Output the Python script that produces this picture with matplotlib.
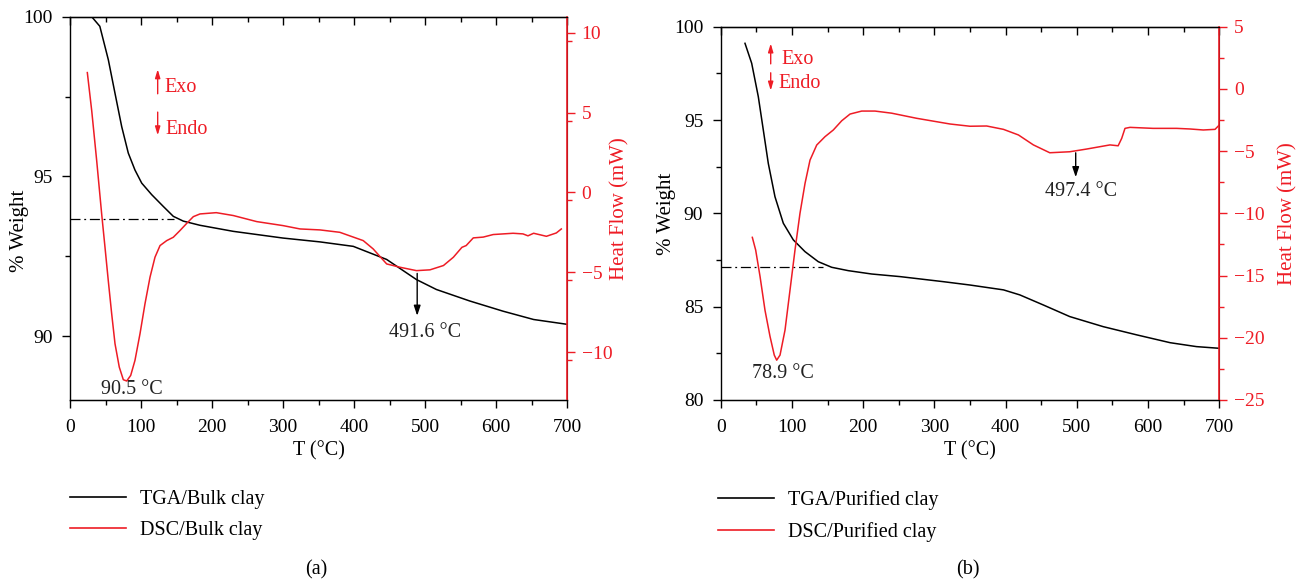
import matplotlib
matplotlib.use("Agg")
import matplotlib.pyplot as plt
from matplotlib.lines import Line2D

plt.rcParams['font.family'] = ['Liberation Serif', 'DejaVu Serif']

RED = '#ee1c25'
FS = 14
LFS = 14.5

# ---------------- Panel (a): bulk clay ----------------
tga_a_T = [30.5, 42, 54, 63.4, 72.8, 82.1, 91.5, 101, 115, 131.4, 145.5, 159.6, 183, 230,
           300, 352, 399, 446, 488, 516, 563, 610, 653, 700]
tga_a_W = [100.0, 99.7, 98.65, 97.6, 96.56, 95.73, 95.2, 94.79, 94.43, 94.06, 93.75, 93.6,
           93.47, 93.28, 93.07, 92.95, 92.81, 92.4, 91.77, 91.46, 91.1, 90.78, 90.52, 90.37]
dsc_a_T = [24.4, 30.6, 37.6, 44.6, 49.3, 53.9, 58.7, 63.4, 69.4, 75.1, 79.9, 85.5, 91.5,
           98.6, 105.6, 112.7, 119.7, 126.8, 136.2, 145.5, 154.9, 164.4, 173.7, 183.1, 206,
           230, 263, 300, 324, 352, 380, 413, 427, 446, 465, 488, 507, 526, 540, 552, 558,
           568, 582, 596, 624, 638, 645, 653, 671, 685, 692]
dsc_a_H = [7.5, 5.11, 1.98, -1.35, -3.44, -5.52, -7.6, -9.48, -10.94, -11.73, -11.81, -11.46,
           -10.52, -8.85, -6.98, -5.31, -4.06, -3.33, -3.02, -2.81, -2.39, -1.94, -1.52,
           -1.35, -1.27, -1.45, -1.83, -2.08, -2.29, -2.35, -2.5, -3.02, -3.54, -4.48,
           -4.69, -4.9, -4.85, -4.58, -4.06, -3.44, -3.33, -2.85, -2.8, -2.64, -2.56, -2.6,
           -2.72, -2.56, -2.75, -2.54, -2.29]

# ---------------- Panel (b): purified clay ----------------
tga_b_T = [34.1, 43.5, 52.8, 59.8, 66.8, 76.2, 87.9, 101.9, 118.3, 137, 155.8, 179.1, 212,
           252, 312.5, 350, 397, 420, 453, 490, 537, 584, 631, 668, 700]
tga_b_W = [99.11, 98.04, 96.25, 94.47, 92.68, 90.89, 89.47, 88.58, 87.95, 87.41, 87.11,
           86.93, 86.75, 86.61, 86.34, 86.16, 85.9, 85.63, 85.09, 84.47, 83.93, 83.49,
           83.07, 82.86, 82.77]
dsc_b_T = [44.4, 49.1, 55.2, 62.2, 69.2, 75.2, 78.6, 83.3, 90.3, 97.3, 104.3, 111.3, 118.4,
           125.4, 134.8, 146.4, 158.1, 169.9, 181.6, 198, 216.6, 240, 275, 322, 350, 373.4,
           397, 418, 439, 462, 490, 514, 546.5, 558, 563, 567.6, 574.6, 607, 640, 659,
           677.5, 694, 700]
dsc_b_H = [-11.93, -12.95, -15.06, -17.79, -19.88, -21.39, -21.8, -21.39, -19.38, -16.17,
           -12.95, -10.0, -7.59, -5.72, -4.51, -3.84, -3.30, -2.56, -2.02, -1.78, -1.78,
           -1.95, -2.36, -2.82, -3.0, -2.98, -3.25, -3.7, -4.5, -5.13, -5.05, -4.83, -4.5,
           -4.57, -3.97, -3.17, -3.09, -3.17, -3.17, -3.22, -3.3, -3.25, -2.9]

panels = [
    dict(rect=[70/1307, 1-400/584, 497/1307, 383.3/584], T=tga_a_T, W=tga_a_W, dT=dsc_a_T,
         dH=dsc_a_H, ylim=(88, 100), yticks=[90, 95, 100], y2lim=(-13, 11),
         y2ticks=[-10, -5, 0, 5, 10], base=93.67, base_end=147,
         peak1=(87, 88.33, '90.5 °C'), arr2=(489, -4.9, -7.9), t2=(500, -8.75, '491.6 °C'),
         exo=(123.5, 97.5, 98.44, 97.1, 96.2, 132.8, 97.78, 134.8, 96.48),
         labels=['TGA/Bulk clay', 'DSC/Bulk clay'], leg_x=70, tag='(a)', tag_x=316,
         wlab=(-0.102, 0.441), hlab=(1.1066, 0.5), xlab_y=-0.107),
    dict(rect=[720.7/1307, 1-400/584, 498.6/1307, 373.3/584], T=tga_b_T, W=tga_b_W,
         dT=dsc_b_T, dH=dsc_b_H, ylim=(80, 100), yticks=[80, 85, 90, 95, 100],
         y2lim=(-25, 5), y2ticks=[-25, -20, -15, -10, -5, 0, 5], base=87.14, base_end=144,
         peak1=(86.8, 81.44, '78.9 °C'), arr2=(498.4, -4.91, -7.32), t2=(506, -8.26, '497.4 °C'),
         exo=(70.2, 97.86, 99.25, 97.68, 96.43, 84.7, 98.25, 81, 96.97),
         labels=['TGA/Purified clay', 'DSC/Purified clay'], leg_x=718, tag='(b)', tag_x=968,
         wlab=(-0.108, 0.5), hlab=(1.1378, 0.5), xlab_y=-0.11),
]

fig = plt.figure(figsize=(13.07, 5.84), dpi=100)

for p in panels:
    ax = fig.add_axes(p['rect'])
    ax2 = ax.twinx()
    ax.plot(p['T'], p['W'], color='black', lw=1.1, zorder=3)
    ax2.plot(p['dT'], p['dH'], color=RED, lw=1.1)
    ax.plot([0, p['base_end']], [p['base'], p['base']], color='black', lw=0.9,
            ls=(0, (8, 3, 1.5, 3)))
    ax.set_xlim(0, 700)
    ax.set_ylim(*p['ylim'])
    ax2.set_ylim(*p['y2lim'])
    majx = list(range(0, 701, 100))
    minx = list(range(50, 700, 100))
    ax.set_xticks(majx)
    ax.set_xticks(minx, minor=True)
    ax.set_yticks(p['yticks'])
    ax.set_yticks([v + 2.5 for v in p['yticks'][:-1]], minor=True)
    ax2.set_yticks(p['y2ticks'])
    ax2.set_yticks([v + 2.5 for v in range(p['y2lim'][0] - 5, p['y2lim'][1], 5)
                    if p['y2lim'][0] <= v + 2.5 <= p['y2lim'][1]], minor=True)
    ax.tick_params(axis='x', which='major', labelsize=FS, length=6, width=1,
                   direction='out', pad=8)
    ax.tick_params(axis='y', which='major', labelsize=FS, length=6, width=1,
                   direction='out', pad=6.5)
    ax.tick_params(axis='both', which='minor', length=3.5, width=1, direction='out')
    top = ax.secondary_xaxis('top')
    top.set_xticks(majx)
    top.set_xticks(minx, minor=True)
    top.tick_params(which='major', direction='in', length=6, width=1, labeltop=False)
    top.tick_params(which='minor', direction='in', length=3.5, width=1)
    ax2.tick_params(axis='y', which='major', labelsize=FS, length=6, width=1,
                    colors=RED, direction='out', pad=4.5)
    ax2.tick_params(axis='y', which='minor', length=3.5, width=1, colors=RED, direction='out')
    for s in ['left', 'bottom', 'top']:
        ax.spines[s].set_linewidth(1)
    ax2.spines['right'].set_color(RED)
    ax2.spines['right'].set_linewidth(1.2)
    ax2.spines['left'].set_visible(False)
    ax.set_xlabel('T (°C)', fontsize=LFS)
    ax.xaxis.set_label_coords(0.5, p['xlab_y'])
    ax.set_ylabel('% Weight', fontsize=15)
    ax.yaxis.set_label_coords(*p['wlab'])
    ax2.set_ylabel('Heat Flow (mW)', fontsize=15, color=RED, va='center')
    ax2.yaxis.set_label_coords(*p['hlab'])
    ax.yaxis.label.set_va('center')

    # annotations
    px, py, ptxt = p['peak1']
    ax.text(px, py, ptxt, fontsize=LFS, ha='center', va='center', color='#222222')
    ax2.annotate('', xy=(p['arr2'][0], p['arr2'][2]), xytext=(p['arr2'][0], p['arr2'][1]),
                 arrowprops=dict(arrowstyle='-|>,head_length=0.6,head_width=0.2',
                                 color='black', lw=1))
    ax2.text(p['t2'][0], p['t2'][1], p['t2'][2], fontsize=LFS, ha='center', va='center',
             color='#222222')
    ex = p['exo']
    ax.annotate('', xy=(ex[0], ex[2]), xytext=(ex[0], ex[1]),
                arrowprops=dict(arrowstyle='-|>,head_length=0.5,head_width=0.15',
                                color=RED, lw=1))
    ax.annotate('', xy=(ex[0], ex[4]), xytext=(ex[0], ex[3]),
                arrowprops=dict(arrowstyle='-|>,head_length=0.5,head_width=0.15',
                                color=RED, lw=1))
    ax.text(ex[5], ex[6], 'Exo', fontsize=LFS, color=RED, ha='left', va='center')
    ax.text(ex[7], ex[8], 'Endo', fontsize=LFS, color=RED, ha='left', va='center')

    fig.legend([Line2D([], [], color='black', lw=1.2), Line2D([], [], color=RED, lw=1.2)],
               p['labels'], loc='upper left',
               bbox_to_anchor=(p['leg_x'] / 1307, 1 - 490 / 584), frameon=False,
               fontsize=LFS, handlelength=2.8, handletextpad=0.7, labelspacing=0.6,
               borderpad=0, borderaxespad=0)
    fig.text(p['tag_x'] / 1307, 1 - 570 / 584, p['tag'], fontsize=LFS, ha='center',
             va='center')

fig.savefig('out.png', dpi=100)
